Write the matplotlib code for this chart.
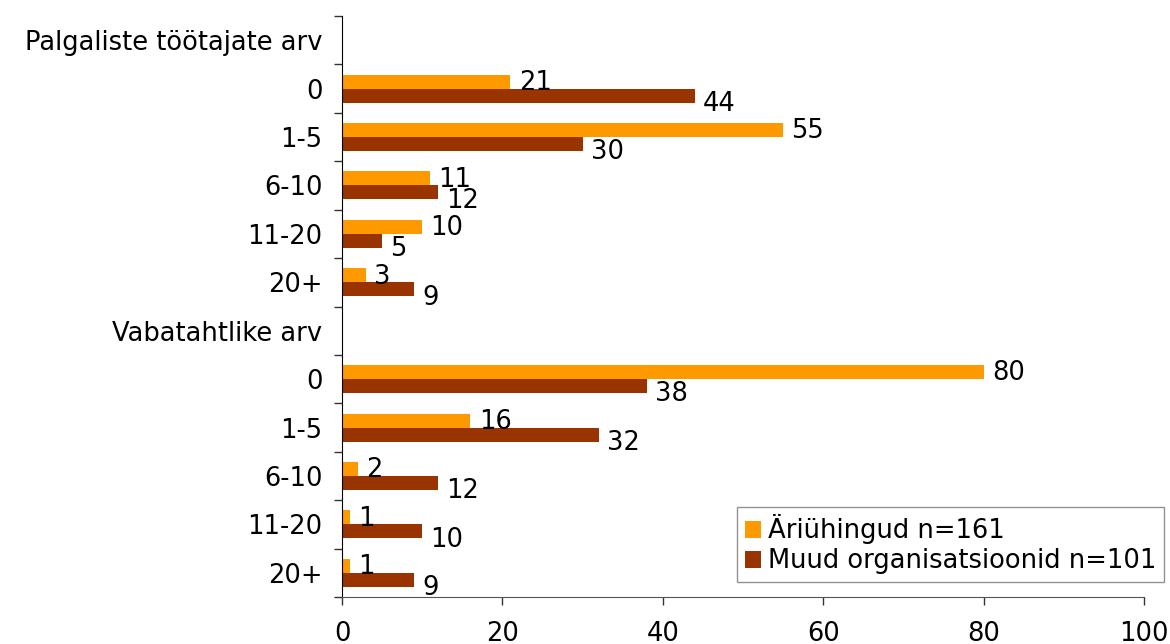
import matplotlib.pyplot as plt
import numpy as np

categories = ["Palgaliste töötajate arv", "0", "1-5", "6-10", "11-20", "20+",
              "Vabatahtlike arv", "0", "1-5", "6-10", "11-20", "20+"]
# header rows carry no bars
ariuhingud = [None, 21, 55, 11, 10, 3, None, 80, 16, 2, 1, 1]
muud = [None, 44, 30, 12, 5, 9, None, 38, 32, 12, 10, 9]
series_names = ["Äriühingud n=161", "Muud organisatsioonid n=101"]
colors = ["#FF9900", "#993300"]

plt.rcParams['font.family'] = ['DejaVu Sans']
fs = 18.5

fig = plt.figure(figsize=(11.7, 6.44), dpi=100)
ax = fig.add_axes([342 / 1170, 1 - 597 / 644, (1144 - 342) / 1170, (597 - 16) / 644])

y = np.arange(len(categories))
h = 0.29
for k, (vals, name, col) in enumerate(zip([ariuhingud, muud], series_names, colors)):
    idx = [i for i, v in enumerate(vals) if v is not None]
    v = np.array([vals[i] for i in idx], dtype=float)
    pos = y[idx] + (k - 0.5) * h
    ax.barh(pos, v, height=h, color=col, label=name)
    for p, val in zip(pos, v):
        ax.annotate(f"{val:.0f}", (val, p), xytext=(6, -1 if k == 0 else -6),
                    textcoords="offset points", va="center", ha="left", fontsize=fs)

ax.set_ylim(len(categories) - 0.5, -0.5)
ax.set_xlim(0, 100)
ax.set_xticks(np.arange(0, 101, 20))
ax.set_yticks(y)
ax.set_yticklabels(categories)
ax.set_yticks(np.arange(-0.5, len(categories), 1), minor=True)
ax.tick_params(axis='y', which='major', length=0, pad=14, labelsize=fs)
ax.tick_params(axis='y', which='minor', length=6, width=1, color='#333333')
ax.tick_params(axis='x', length=6, width=1, color='#333333', pad=11, labelsize=fs)

for s in ['top', 'right']:
    ax.spines[s].set_visible(False)
ax.spines['left'].set_color('black')
ax.spines['bottom'].set_color('#555555')

leg = ax.legend(loc='lower right', bbox_to_anchor=(1164 / 1170, 1 - 582 / 644),
                bbox_transform=fig.transFigure, fontsize=fs, frameon=True,
                fancybox=False, handlelength=0.65, handleheight=0.65,
                handletextpad=0.25, borderpad=0.3, labelspacing=0.15,
                borderaxespad=0)
leg.get_frame().set_edgecolor('#777777')
leg.get_frame().set_linewidth(1)

fig.savefig("out.png", dpi=100)
